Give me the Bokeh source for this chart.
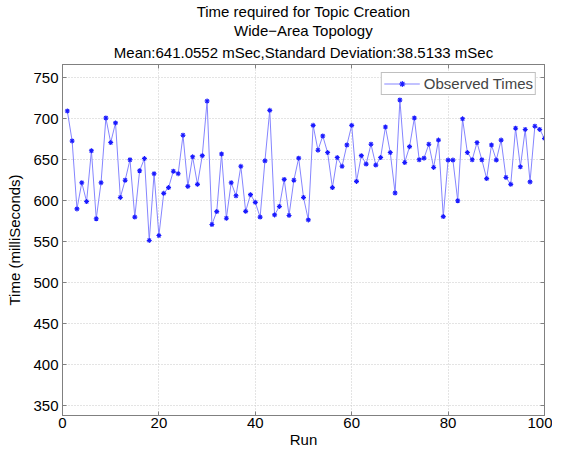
from bokeh.plotting import figure
from bokeh.models import LinearAxis, Range1d, Legend, LegendItem, FixedTicker, Title
from bokeh.embed import file_html
from bokeh.resources import INLINE

runs = list(range(1, 101))
times = [709.5, 673, 590, 622, 599, 661, 578, 622, 701, 671,
         695, 604, 625, 650, 580, 636.6, 651.5, 551.5, 633, 557.5,
         609, 616, 636, 633, 680, 617.5, 653.6, 620, 655, 721.7,
         571, 586.7, 657, 578.6, 622, 606, 642, 587, 607.4, 598,
         580, 648.7, 710.3, 582.7, 593, 626, 582, 625, 652, 604,
         576.6, 692, 661.7, 679, 658.8, 616, 652.7, 642, 668, 692,
         623.6, 655, 644.7, 669, 643.5, 652.7, 690, 658.8, 609.4, 723,
         646.7, 666, 701, 650, 652, 669, 640.6, 674, 580.6, 649.6,
         649.6, 600, 700, 658.8, 650, 671, 650, 627, 668, 649.6,
         674, 628.4, 620, 688.5, 641.4, 687, 623, 691, 687, 676]
x_ticks = [0, 20, 40, 60, 80, 100]
y_ticks = [350, 400, 450, 500, 550, 600, 650, 700, 750]
title_lines = ["Time required for Topic Creation",
               "Wide\u2212Area Topology",
               "Mean:641.0552 mSec,Standard Deviation:38.5133 mSec"]

FONT = "Liberation Sans"
FS = "15px"

p = figure(width=552, height=450, output_backend="svg", toolbar_location=None,
           x_range=Range1d(0, 100), y_range=Range1d(337.8, 766.3),
           min_border_left=62, min_border_right=8, min_border_top=63,
           min_border_bottom=35)
p.title = None

line = p.line(runs, times, line_color="#8585ff", line_width=1)
pts = p.scatter(runs, times, marker="asterisk", size=5, line_color="#1a1aff",
                line_width=1.1)

for ax in [p.xaxis[0], p.yaxis[0]]:
    ax.major_tick_in = 4
    ax.major_tick_out = 0
    ax.minor_tick_line_color = None
    ax.axis_line_color = "#808080"
    ax.major_tick_line_color = "#808080"
    ax.major_label_text_font = FONT
    ax.major_label_text_font_size = FS
    ax.major_label_text_color = "#000000"
    ax.axis_label_text_font = FONT
    ax.axis_label_text_font_size = FS
    ax.axis_label_text_font_style = "normal"
    ax.axis_label_text_color = "#000000"

p.xaxis[0].ticker = FixedTicker(ticks=x_ticks)
p.yaxis[0].ticker = FixedTicker(ticks=y_ticks)
p.xaxis[0].axis_label = "Run"
p.yaxis[0].axis_label = "Time (milliSeconds)"
p.xaxis[0].major_label_standoff = 2
p.xaxis[0].axis_label_standoff = 0
p.yaxis[0].major_label_standoff = 4
p.yaxis[0].axis_label_standoff = 7

top = LinearAxis(ticker=FixedTicker(ticks=x_ticks), major_label_text_font_size="0px",
                 major_label_standoff=0, major_tick_in=4, major_tick_out=0,
                 minor_tick_line_color=None, axis_line_color="#808080",
                 major_tick_line_color="#808080")
right = LinearAxis(ticker=FixedTicker(ticks=y_ticks), major_label_text_font_size="0px",
                   major_label_standoff=0, major_tick_in=4, major_tick_out=0,
                   minor_tick_line_color=None, axis_line_color="#808080",
                   major_tick_line_color="#808080")
p.add_layout(top, "above")
p.add_layout(right, "right")

for i, t in enumerate(reversed(title_lines)):
    p.add_layout(Title(text=t, align="center", text_font=FONT, text_font_size=FS,
                       text_font_style="normal", text_color="#000000",
                       standoff=7 if i == 0 else 0, offset=0), "above")

p.xgrid.ticker = FixedTicker(ticks=x_ticks)
p.ygrid.ticker = FixedTicker(ticks=y_ticks)
for g in [p.xgrid[0], p.ygrid[0]]:
    g.grid_line_color = "#c8c8c8"
    g.grid_line_dash = "1 2"
    g.grid_line_width = 1

p.outline_line_color = "#808080"
p.background_fill_color = "white"
p.border_fill_color = "white"

legend = Legend(items=[LegendItem(label="Observed Times", renderers=[line, pts])],
                location="top_right", label_text_font=FONT, label_text_font_size=FS,
                border_line_color="#808080", border_line_width=1,
                margin=8, padding=2, spacing=0, glyph_width=36, glyph_height=15,
                label_height=15, label_standoff=4, background_fill_alpha=1)
p.add_layout(legend, "center")

open("out.html", "w").write(file_html(p, INLINE))
